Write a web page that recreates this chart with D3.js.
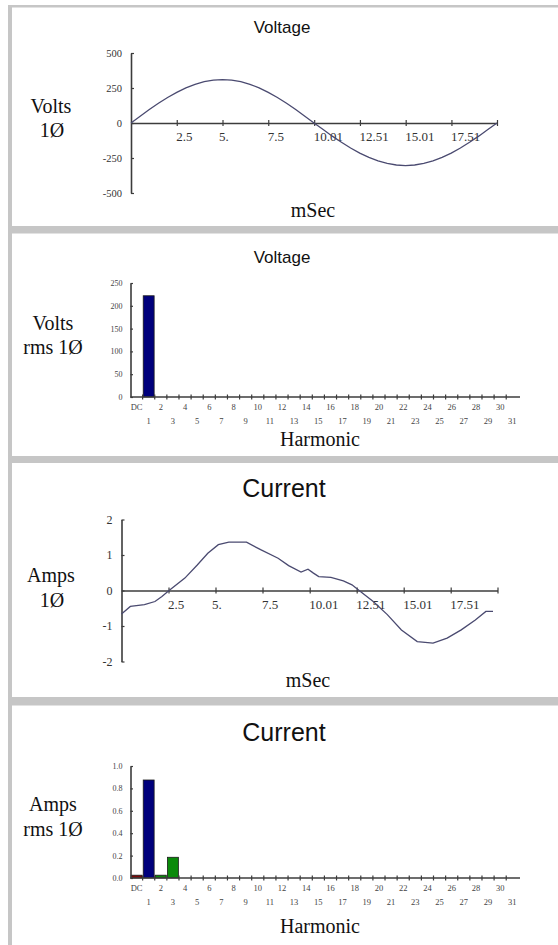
<!DOCTYPE html>
<html>
<head>
<meta charset="utf-8">
<script src="https://cdn.jsdelivr.net/npm/d3@7"></script>
<style>
  html, body { margin: 0; padding: 0; background: #fff; }
  svg { display: block; }
</style>
</head>
<body>
<svg id="chart" width="558" height="945"></svg>
<script>
// ---------- DATA ----------
const timeTicks = [2.5, 5, 7.5, 10.01, 12.51, 15.01, 17.51, 20];
const timeTickLabels = ["2.5", "5.", "7.5", "10.01", "12.51", "15.01", "17.51", ""];

const voltTicks = [-500, -250, 0, 250, 500];
const voltTickLabels = ["-500", "-250", "0", "250", "500"];
const voltTime = [0,0.5,1,1.5,2,2.5,3,3.5,4,4.5,5,5.5,6,6.5,7,7.5,8,8.5,9,9.5,10,
                  10.5,11,11.5,12,12.5,13,13.5,14,14.5,15,15.5,16,16.5,17,17.5,18,18.5,19,19.5,20];
const voltValues = [0,48,96,141,182,219,251,276,295,306,310,306,295,276,251,219,182,141,96,48,0,
                    -47,-94,-138,-179,-215,-246,-271,-289,-300,-304,-300,-289,-271,-246,-215,-179,-138,-94,-47,0];

const ampTicks = [-2, -1, 0, 1, 2];
const ampTickLabels = ["-2", "-1", "0", "1", "2"];
const ampTime = [0,0.47,1.22,1.78,2.15,2.53,3.37,4.03,4.59,5.15,5.71,6.65,7.4,8.33,8.89,9.55,9.92,
                 10.21,10.49,11.14,11.8,12.26,12.64,13.39,14.14,14.89,15.73,16.57,17.32,18.07,18.82,19.38,19.76];
const ampValues = [-0.66,-0.45,-0.40,-0.31,-0.17,0.0,0.35,0.72,1.05,1.29,1.36,1.36,1.15,0.91,0.70,0.52,0.60,
                   0.49,0.39,0.37,0.27,0.16,0.0,-0.31,-0.68,-1.11,-1.44,-1.48,-1.34,-1.11,-0.83,-0.59,-0.59];

const harmonics = ["DC","1","2","3","4","5","6","7","8","9","10","11","12","13","14","15","16",
                   "17","18","19","20","21","22","23","24","25","26","27","28","29","30","31"];
const voltHarmTicks = [0, 50, 100, 150, 200, 250];
const voltHarmTickLabels = ["0", "50", "100", "150", "200", "250"];
const voltHarmValues = {"1": 222};
const ampHarmTicks = [0, 0.2, 0.4, 0.6, 0.8, 1.0];
const ampHarmTickLabels = ["0.0", "0.2", "0.4", "0.6", "0.8", "1.0"];
const ampHarmValues = {"DC": 0.025, "1": 0.875, "2": 0.025, "3": 0.185};
const harmColors = {"DC": "#7a0a0a", "1": "#00007c", "2": "#0a8a0a", "3": "#0a8a0a"};

// ---------- STYLE ----------
const SANS = "'Liberation Sans', Arial, sans-serif";
const SERIF = "'Liberation Serif', 'Times New Roman', serif";
const AXIS = "#3c3c3c";
const CURVE = "#4a4a70";
const FRAME = "#c6c6c6";

const svg = d3.select("#chart");

// ---------- FRAME ----------
svg.append("rect").attr("x", 8).attr("y", 5).attr("width", 550).attr("height", 2.5).attr("fill", FRAME);
svg.append("rect").attr("x", 8).attr("y", 5).attr("width", 4).attr("height", 940).attr("fill", FRAME);
[[226, 7.5], [456, 7], [697, 8.5]].forEach(([y, h]) => {
  svg.append("rect").attr("x", 8).attr("y", y).attr("width", 550).attr("height", h).attr("fill", FRAME);
});

function text(x, y, str, size, family, anchor, color) {
  return svg.append("text").attr("x", x).attr("y", y).attr("text-anchor", anchor || "middle")
    .attr("font-family", family).attr("font-size", size).attr("fill", color || "#111").text(str);
}

function styleAxis(g) {
  g.selectAll("path.domain").attr("stroke", AXIS).attr("stroke-width", 1.6);
  g.selectAll(".tick line").attr("stroke", AXIS).attr("stroke-width", 1.2);
}

// ---------- WAVEFORM PANEL ----------
function wavePanel(cfg) {
  const x = d3.scaleLinear().domain([0, 20]).range(cfg.xr);
  const y = d3.scaleLinear().domain([cfg.yTicks[0], cfg.yTicks[cfg.yTicks.length - 1]]).range(cfg.yr);
  const g = svg.append("g");

  // y axis
  const ya = g.append("g").attr("transform", `translate(${cfg.xr[0]},0)`)
    .call(d3.axisLeft(y).tickValues(cfg.yTicks).tickFormat((d, i) => cfg.yLabels[i])
      .tickSizeInner(-3).tickSizeOuter(0).tickPadding(9));
  styleAxis(ya);
  ya.selectAll(".tick text").attr("font-family", SERIF).attr("font-size", cfg.yFont).attr("fill", "#333");

  // x axis
  const xa = g.append("g").attr("transform", `translate(0,${y(0)})`)
    .call(d3.axisBottom(x).tickValues(timeTicks).tickFormat((d, i) => timeTickLabels[i])
      .tickSizeInner(6).tickSizeOuter(0).tickPadding(3));
  styleAxis(xa);
  xa.selectAll(".tick line").attr("y1", -3).attr("y2", 3);
  xa.selectAll(".tick text").attr("font-family", SERIF).attr("font-size", 13).attr("fill", "#333")
    .attr("text-anchor", "start").attr("dx", (d, i) => timeTickLabels[i] === "5." ? -4 : -1)
    .attr("y", 9);

  // curve
  const line = d3.line().x(d => x(d[0])).y(d => y(d[1]));
  g.append("path").datum(cfg.t.map((t, i) => [t, cfg.v[i]]))
    .attr("d", line).attr("fill", "none").attr("stroke", CURVE).attr("stroke-width", 1.3);

  text(cfg.titleX, cfg.titleY, cfg.title, cfg.titleSize, SANS);
  text(51, cfg.lab1Y, cfg.lab1, 20, SERIF);
  text(52, cfg.lab2Y, cfg.lab2, 20, SERIF);
  text(cfg.xlabX, cfg.xlabY, "mSec", 20, SERIF);
}

// ---------- HARMONIC PANEL ----------
function harmPanel(cfg) {
  const x = d3.scaleBand().domain(harmonics).range([130.5, 130.5 + 32 * 12.12]).paddingInner(0.1).paddingOuter(0.05);
  const y = d3.scaleLinear().domain([0, cfg.yTicks[cfg.yTicks.length - 1]]).range(cfg.yr);
  const g = svg.append("g");
  const step = x.step();

  // bars
  const data = harmonics.filter(h => cfg.values[h] !== undefined).map(h => ({h, v: cfg.values[h]}));
  g.selectAll("rect.bar").data(data).enter().append("rect")
    .attr("x", d => x(d.h)).attr("width", x.bandwidth())
    .attr("y", d => y(d.v)).attr("height", d => y(0) - y(d.v))
    .attr("fill", d => cfg.colors[d.h]).attr("stroke", "#1a1a1a").attr("stroke-width", 0.8);

  // y axis
  const ya = g.append("g").attr("transform", `translate(130.5,0)`)
    .call(d3.axisLeft(y).tickValues(cfg.yTicks).tickFormat((d, i) => cfg.yLabels[i])
      .tickSizeInner(-2.5).tickSizeOuter(0).tickPadding(8));
  styleAxis(ya);
  ya.selectAll(".tick text").attr("font-family", SERIF).attr("font-size", 8).attr("fill", "#444");

  // x axis (labels in two staggered rows)
  const xa = g.append("g").attr("transform", `translate(0,${y(0)})`)
    .call(d3.axisBottom(x).tickSize(0).tickPadding(0));
  xa.select("path.domain").attr("d", `M130.5,0H520`).attr("stroke", AXIS).attr("stroke-width", 1.6);
  xa.selectAll(".tick text").attr("font-family", SERIF).attr("font-size", 8.5).attr("fill", "#444")
    .attr("y", (d, i) => i % 2 === 0 ? 7 : 21).attr("dy", "0.71em");
  // boundary ticks between harmonics
  g.selectAll("line.btick").data(harmonics.slice(1)).enter().append("line")
    .attr("x1", d => x(d) - step * 0.05).attr("x2", d => x(d) - step * 0.05)
    .attr("y1", y(0) - 2.5).attr("y2", y(0) + 2.5)
    .attr("stroke", AXIS).attr("stroke-width", 1.2);

  text(cfg.titleX, cfg.titleY, cfg.title, cfg.titleSize, SANS);
  text(53, cfg.lab1Y, cfg.lab1, 20, SERIF);
  text(53, cfg.lab2Y, cfg.lab2, 20, SERIF);
  text(320, cfg.xlabY, "Harmonic", 20, SERIF);
}

wavePanel({
  xr: [131, 497], yr: [193, 53], yTicks: voltTicks, yLabels: voltTickLabels, yFont: 10.5, t: voltTime, v: voltValues,
  title: "Voltage", titleX: 282, titleY: 33, titleSize: 17,
  lab1: "Volts", lab1Y: 113, lab2: "1Ø", lab2Y: 137, xlabX: 313, xlabY: 217
});

harmPanel({
  yr: [397, 283], yTicks: voltHarmTicks, yLabels: voltHarmTickLabels, values: voltHarmValues, colors: harmColors,
  title: "Voltage", titleX: 282, titleY: 263, titleSize: 17,
  lab1: "Volts", lab1Y: 330, lab2: "rms 1Ø", lab2Y: 354, xlabY: 446
});

wavePanel({
  xr: [121.5, 497.5], yr: [661.5, 519.5], yTicks: ampTicks, yLabels: ampTickLabels, yFont: 12, t: ampTime, v: ampValues,
  title: "Current", titleX: 284, titleY: 497, titleSize: 25,
  lab1: "Amps", lab1Y: 582, lab2: "1Ø", lab2Y: 607, xlabX: 308, xlabY: 687
});

harmPanel({
  yr: [878, 766], yTicks: ampHarmTicks, yLabels: ampHarmTickLabels, values: ampHarmValues, colors: harmColors,
  title: "Current", titleX: 284, titleY: 741, titleSize: 25,
  lab1: "Amps", lab1Y: 811, lab2: "rms 1Ø", lab2Y: 836, xlabY: 933
});
</script>
</body>
</html>
